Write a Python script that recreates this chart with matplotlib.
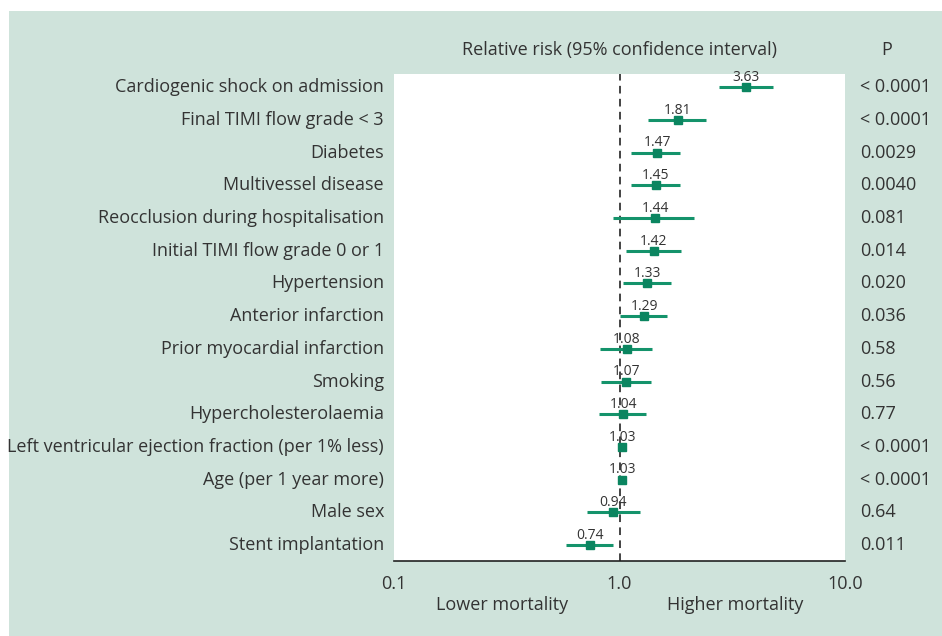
import matplotlib
matplotlib.use("Agg")
import matplotlib.pyplot as plt
from matplotlib.patches import Rectangle

plt.rcParams['font.family'] = ['Open Sans', 'DejaVu Sans']

categories = [
    "Cardiogenic shock on admission",
    "Final TIMI flow grade < 3",
    "Diabetes",
    "Multivessel disease",
    "Reocclusion during hospitalisation",
    "Initial TIMI flow grade 0 or 1",
    "Hypertension",
    "Anterior infarction",
    "Prior myocardial infarction",
    "Smoking",
    "Hypercholesterolaemia",
    "Left ventricular ejection fraction (per 1% less)",
    "Age (per 1 year more)",
    "Male sex",
    "Stent implantation",
]
rr = [3.63, 1.81, 1.47, 1.45, 1.44, 1.42, 1.33, 1.29, 1.08, 1.07, 1.04, 1.03, 1.03, 0.94, 0.74]
ci_low = [2.77, 1.34, 1.13, 1.13, 0.94, 1.07, 1.04, 1.01, 0.82, 0.83, 0.815, 1.02, 1.02, 0.72, 0.58]
ci_high = [4.77, 2.43, 1.86, 1.86, 2.15, 1.88, 1.70, 1.62, 1.40, 1.38, 1.31, 1.04, 1.04, 1.23, 0.94]
p_values = ["< 0.0001", "< 0.0001", "0.0029", "0.0040", "0.081", "0.014", "0.020", "0.036",
            "0.58", "0.56", "0.77", "< 0.0001", "< 0.0001", "0.64", "0.011"]
x_ticks = [0.1, 1.0, 10.0]
x_tick_labels = ["0.1", "1.0", "10.0"]

W, H = 942, 636
fig = plt.figure(figsize=(W / 100, H / 100), dpi=100)
bg = '#cfe3db'
fig.patches.append(Rectangle((8.5 / W, 0), 1 - 8.5 / W, 1 - 11 / H, transform=fig.transFigure,
                             facecolor=bg, edgecolor='none', zorder=-5))

left, right, top, bottom = 394, 845, 73.6, 561.4
ax = fig.add_axes([left / W, 1 - bottom / H, (right - left) / W, (bottom - top) / H])
ax.set_zorder(5)
ax.set_facecolor('white')
ax.set_xscale('log')
ax.set_xlim(0.1, 10)
ax.set_ylim(14.5, -0.42)
for s in ['top', 'right', 'left']:
    ax.spines[s].set_visible(False)
ax.spines['bottom'].set_color('#222222')
ax.spines['bottom'].set_linewidth(1.2)
ax.set_yticks([])
ax.set_xticks([])
ax.minorticks_off()
ax.tick_params(which='both', length=0)

txt = '#333333'
fs = 13
green = '#0b8560'
ax.axvline(1.0, color='#111111', linestyle=(0, (5, 3.5)), linewidth=1.1, zorder=1)

ys = list(range(len(categories)))
ax.hlines(ys, ci_low, ci_high, color='#14936b', linewidth=2.2, zorder=2)
ax.plot(rr, ys, linestyle='none', marker='s', markersize=6.2, color=green, zorder=3)
for v, y in zip(rr, ys):
    ax.annotate(f"{v:.2f}", (v, y), xytext=(0, 4.5), textcoords='offset points',
                ha='center', va='baseline', fontsize=10, color=txt)

for c, y in zip(categories, ys):
    ax.annotate(c, (0, y), xycoords=('axes fraction', 'data'), xytext=(-10 * 0.72, 0),
                textcoords='offset points', ha='right', va='center', fontsize=fs, color=txt,
                annotation_clip=False)
for p, y in zip(p_values, ys):
    ax.annotate(p, (1, y), xycoords=('axes fraction', 'data'), xytext=(15 * 0.72, 0),
                textcoords='offset points', ha='left', va='center', fontsize=fs, color=txt,
                annotation_clip=False)

for t, lab in zip(x_ticks, x_tick_labels):
    ax.annotate(lab, (t, 0), xycoords=('data', 'axes fraction'), xytext=(0, -(584 - bottom) * 0.72),
                textcoords='offset points', ha='center', va='center', fontsize=fs, color=txt,
                annotation_clip=False)

fig.text(620 / W, 1 - 50 / H, "Relative risk (95% confidence interval)", ha='center', va='center',
         fontsize=fs, color=txt)
fig.text(887 / W, 1 - 50 / H, "P", ha='center', va='center', fontsize=fs, color=txt)
fig.text(502.5 / W, 1 - 605 / H, "Lower mortality", ha='center', va='center', fontsize=fs, color=txt)
fig.text(735 / W, 1 - 605 / H, "Higher mortality", ha='center', va='center', fontsize=fs, color=txt)

fig.savefig('out.png', dpi=100, facecolor='white')
